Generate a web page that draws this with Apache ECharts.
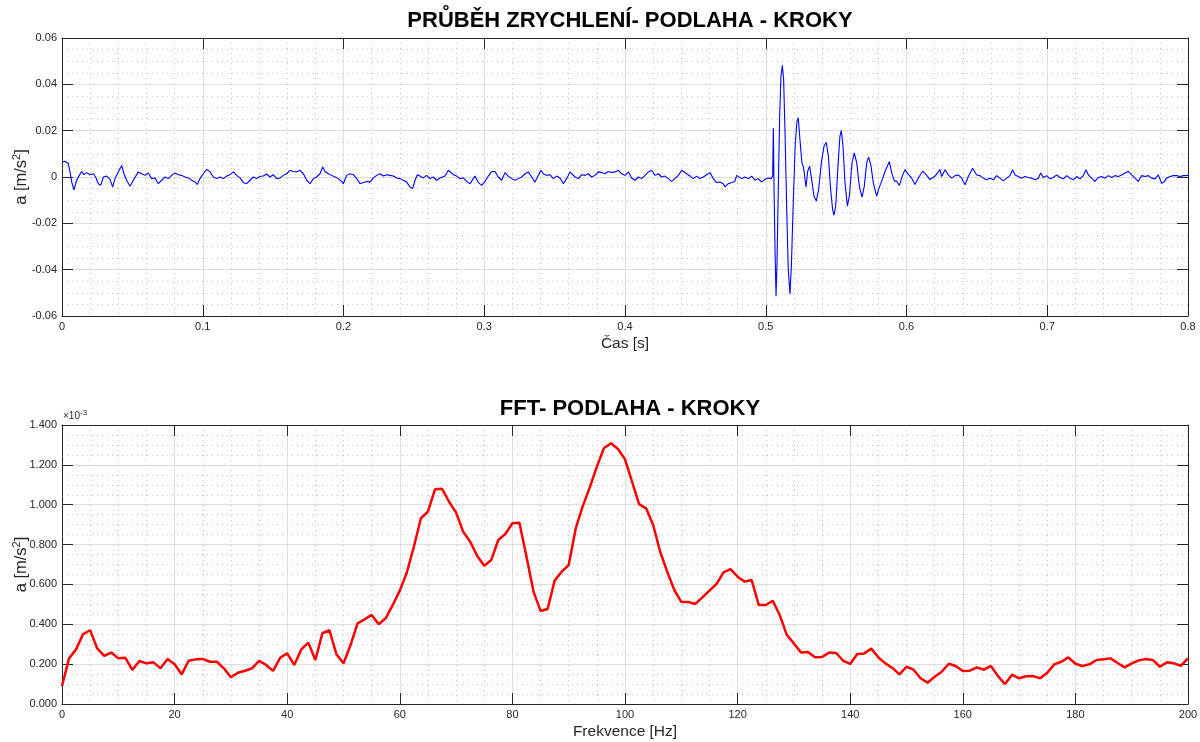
<!DOCTYPE html>
<html>
<head>
<meta charset="utf-8">
<title>Průběh zrychlení a FFT – podlaha, kroky</title>
<script src="https://cdn.jsdelivr.net/npm/echarts@6/dist/echarts.min.js"></script>
<style>
  html, body { margin: 0; padding: 0; background: #ffffff; }
  #chart { width: 1200px; height: 742px; }
</style>
</head>
<body>
<div id="chart"></div>
<script>
// Time record of floor acceleration (footsteps): time [s] and acceleration [m/s^2]
const timeS = [
  0.0000, 0.0021, 0.0045, 0.0057, 0.0069, 0.0085, 0.0104, 0.0123, 0.0140, 0.0156,
  0.0175, 0.0199, 0.0223, 0.0242, 0.0258, 0.0275, 0.0294, 0.0317, 0.0341, 0.0360,
  0.0377, 0.0400, 0.0424, 0.0440, 0.0459, 0.0483, 0.0507, 0.0542, 0.0566, 0.0590,
  0.0613, 0.0637, 0.0661, 0.0684, 0.0708, 0.0732, 0.0755, 0.0779, 0.0803, 0.0827,
  0.0850, 0.0874, 0.0898, 0.0921, 0.0945, 0.0962, 0.0980, 0.1004, 0.1028, 0.1052,
  0.1075, 0.1099, 0.1123, 0.1146, 0.1170, 0.1194, 0.1217, 0.1241, 0.1265, 0.1288,
  0.1312, 0.1336, 0.1359, 0.1383, 0.1407, 0.1430, 0.1454, 0.1478, 0.1501, 0.1525,
  0.1549, 0.1573, 0.1596, 0.1620, 0.1644, 0.1667, 0.1691, 0.1715, 0.1738, 0.1762,
  0.1786, 0.1809, 0.1833, 0.1852, 0.1869, 0.1892, 0.1916, 0.1940, 0.1963, 0.1987,
  0.1999, 0.2022, 0.2046, 0.2070, 0.2094, 0.2117, 0.2141, 0.2165, 0.2188, 0.2212,
  0.2236, 0.2259, 0.2283, 0.2307, 0.2330, 0.2354, 0.2378, 0.2401, 0.2425, 0.2449,
  0.2472, 0.2491, 0.2508, 0.2525, 0.2543, 0.2567, 0.2591, 0.2615, 0.2638, 0.2662,
  0.2686, 0.2697, 0.2721, 0.2745, 0.2757, 0.2780, 0.2804, 0.2828, 0.2851, 0.2875,
  0.2899, 0.2922, 0.2934, 0.2958, 0.2982, 0.3005, 0.3029, 0.3053, 0.3076, 0.3100,
  0.3124, 0.3147, 0.3171, 0.3195, 0.3218, 0.3242, 0.3266, 0.3290, 0.3313, 0.3337,
  0.3361, 0.3384, 0.3403, 0.3420, 0.3443, 0.3467, 0.3491, 0.3514, 0.3538, 0.3562,
  0.3586, 0.3609, 0.3621, 0.3645, 0.3668, 0.3692, 0.3716, 0.3739, 0.3763, 0.3787,
  0.3810, 0.3834, 0.3858, 0.3881, 0.3905, 0.3929, 0.3953, 0.3976, 0.4000, 0.4024,
  0.4047, 0.4071, 0.4095, 0.4118, 0.4142, 0.4166, 0.4189, 0.4213, 0.4237, 0.4260,
  0.4284, 0.4308, 0.4331, 0.4355, 0.4379, 0.4403, 0.4414, 0.4438, 0.4462, 0.4485,
  0.4509, 0.4533, 0.4556, 0.4580, 0.4604, 0.4627, 0.4651, 0.4675, 0.4698, 0.4710,
  0.4734, 0.4758, 0.4781, 0.4793, 0.4805, 0.4829, 0.4852, 0.4876, 0.4900, 0.4923,
  0.4947, 0.4971, 0.4994, 0.5018, 0.5037, 0.5049, 0.5054, 0.5059, 0.5066, 0.5073,
  0.5080, 0.5089, 0.5099, 0.5108, 0.5118, 0.5127, 0.5137, 0.5149, 0.5160, 0.5172,
  0.5182, 0.5196, 0.5210, 0.5222, 0.5231, 0.5243, 0.5257, 0.5269, 0.5286, 0.5298,
  0.5312, 0.5326, 0.5343, 0.5359, 0.5376, 0.5395, 0.5414, 0.5430, 0.5445, 0.5461,
  0.5475, 0.5485, 0.5497, 0.5513, 0.5527, 0.5537, 0.5549, 0.5563, 0.5580, 0.5594,
  0.5613, 0.5629, 0.5646, 0.5665, 0.5684, 0.5700, 0.5717, 0.5731, 0.5748, 0.5764,
  0.5788, 0.5805, 0.5824, 0.5848, 0.5878, 0.5895, 0.5914, 0.5930, 0.5949, 0.5970,
  0.5989, 0.6013, 0.6036, 0.6060, 0.6084, 0.6115, 0.6138, 0.6167, 0.6203, 0.6238,
  0.6250, 0.6274, 0.6297, 0.6321, 0.6345, 0.6368, 0.6392, 0.6416, 0.6439, 0.6470,
  0.6499, 0.6522, 0.6546, 0.6570, 0.6593, 0.6617, 0.6641, 0.6664, 0.6688, 0.6712,
  0.6735, 0.6754, 0.6771, 0.6795, 0.6818, 0.6842, 0.6866, 0.6889, 0.6913, 0.6937,
  0.6953, 0.6972, 0.6996, 0.7019, 0.7043, 0.7067, 0.7090, 0.7114, 0.7138, 0.7162,
  0.7185, 0.7209, 0.7233, 0.7256, 0.7275, 0.7292, 0.7316, 0.7339, 0.7363, 0.7387,
  0.7410, 0.7434, 0.7458, 0.7481, 0.7505, 0.7529, 0.7552, 0.7576, 0.7600, 0.7623,
  0.7647, 0.7671, 0.7694, 0.7718, 0.7742, 0.7765, 0.7789, 0.7813, 0.7829, 0.7848,
  0.7872, 0.7896, 0.7919, 0.7943, 0.7967, 0.7990, 0.8000
];
const accel = [
  0.0065, 0.0068, 0.0058, 0.0022, -0.0022, -0.0055, -0.0014, 0.0007, 0.0024, 0.0010,
  0.0019, 0.0010, 0.0014, -0.0004, -0.0029, -0.0036, 0.0000, 0.0004, -0.0010, -0.0043,
  -0.0007, 0.0022, 0.0050, 0.0014, -0.0014, -0.0040, -0.0014, 0.0022, 0.0014, 0.0007,
  0.0017, -0.0007, -0.0004, -0.0029, -0.0014, 0.0000, -0.0007, 0.0007, 0.0017, 0.0010,
  0.0007, 0.0000, -0.0004, -0.0014, -0.0022, -0.0032, -0.0007, 0.0014, 0.0033, 0.0022,
  0.0000, -0.0007, 0.0000, -0.0007, 0.0004, 0.0010, 0.0022, 0.0007, -0.0004, -0.0024,
  -0.0029, -0.0014, 0.0000, -0.0007, 0.0003, 0.0004, 0.0013, 0.0000, 0.0010, -0.0007,
  -0.0004, 0.0007, 0.0014, 0.0029, 0.0024, 0.0022, 0.0029, 0.0014, -0.0014, -0.0029,
  -0.0007, 0.0000, 0.0014, 0.0043, 0.0024, 0.0014, 0.0007, 0.0000, -0.0007, -0.0019,
  -0.0029, 0.0007, 0.0014, 0.0010, -0.0007, -0.0029, -0.0024, -0.0019, -0.0022, -0.0004,
  0.0007, 0.0014, 0.0004, 0.0010, 0.0007, 0.0004, -0.0004, -0.0007, -0.0014, -0.0022,
  -0.0043, -0.0050, -0.0014, 0.0010, 0.0004, -0.0004, 0.0007, -0.0007, 0.0000, -0.0014,
  -0.0004, 0.0000, 0.0004, 0.0029, 0.0036, 0.0010, 0.0004, -0.0007, -0.0004, -0.0019,
  -0.0029, -0.0007, 0.0004, -0.0024, -0.0036, -0.0019, 0.0004, 0.0024, 0.0024, 0.0000,
  -0.0014, 0.0019, 0.0004, -0.0007, -0.0014, -0.0007, 0.0000, 0.0014, 0.0022, 0.0000,
  -0.0022, 0.0007, 0.0029, 0.0014, 0.0007, 0.0010, -0.0007, 0.0004, -0.0004, -0.0029,
  -0.0007, 0.0022, 0.0029, 0.0000, -0.0007, 0.0010, 0.0007, 0.0014, 0.0000, 0.0007,
  0.0022, 0.0019, 0.0014, 0.0024, 0.0019, 0.0022, 0.0029, 0.0014, 0.0007, 0.0022,
  -0.0004, -0.0014, 0.0000, -0.0007, 0.0007, 0.0022, 0.0029, 0.0007, 0.0014, 0.0000,
  0.0004, -0.0007, -0.0019, -0.0007, 0.0007, 0.0029, 0.0036, 0.0014, 0.0004, -0.0007,
  0.0004, -0.0007, 0.0000, 0.0010, 0.0019, -0.0007, -0.0024, -0.0022, -0.0029, -0.0043,
  -0.0029, -0.0024, -0.0019, 0.0007, 0.0014, -0.0007, 0.0000, -0.0007, 0.0004, -0.0014,
  -0.0007, -0.0022, -0.0010, -0.0004, -0.0007, 0.0004, 0.0212, -0.0054, -0.0313, -0.0515,
  -0.0371, -0.0054, 0.0263, 0.0436, 0.0482, 0.0421, 0.0191, -0.0140, -0.0400, -0.0505,
  -0.0385, -0.0097, 0.0148, 0.0241, 0.0256, 0.0162, 0.0061, 0.0040, -0.0044, 0.0025,
  0.0047, -0.0011, -0.0083, -0.0104, -0.0054, 0.0061, 0.0133, 0.0150, 0.0090, -0.0054,
  -0.0140, -0.0165, -0.0126, 0.0047, 0.0176, 0.0201, 0.0133, -0.0025, -0.0126, -0.0083,
  0.0061, 0.0104, 0.0061, -0.0040, -0.0087, -0.0040, 0.0061, 0.0086, 0.0047, -0.0025,
  -0.0083, -0.0047, -0.0018, 0.0025, 0.0066, 0.0018, -0.0018, -0.0018, -0.0037, 0.0004,
  0.0032, 0.0011, -0.0004, -0.0032, -0.0004, 0.0025, 0.0011, -0.0011, 0.0004, 0.0032,
  0.0002, 0.0031, 0.0009, -0.0005, 0.0006, 0.0009, -0.0005, -0.0034, 0.0002, 0.0038,
  0.0009, 0.0006, -0.0005, -0.0012, -0.0005, -0.0012, 0.0006, -0.0005, -0.0017, -0.0005,
  0.0006, 0.0031, 0.0009, 0.0002, -0.0005, 0.0002, -0.0002, -0.0005, -0.0012, -0.0005,
  0.0017, -0.0002, 0.0006, -0.0008, -0.0002, 0.0009, -0.0002, -0.0008, 0.0006, -0.0005,
  -0.0012, 0.0002, -0.0008, 0.0006, 0.0031, 0.0009, -0.0005, -0.0019, -0.0002, 0.0002,
  -0.0005, 0.0006, -0.0002, 0.0006, 0.0002, 0.0009, 0.0017, 0.0024, 0.0009, -0.0005,
  -0.0019, 0.0006, 0.0002, 0.0006, -0.0005, -0.0008, 0.0009, -0.0027, -0.0022, -0.0005,
  0.0002, 0.0006, 0.0006, 0.0002, 0.0006, 0.0006, 0.0008
];

// Single-sided FFT amplitude, bin spacing 1/0.8 s = 1.25 Hz, values in 10^-3 m/s^2
const FREQ_STEP_HZ = 1.25;
const fftAmp = [
  0.090, 0.229, 0.274, 0.351, 0.370, 0.279, 0.241, 0.258, 0.229, 0.232,
  0.171, 0.216, 0.204, 0.209, 0.179, 0.226, 0.199, 0.149, 0.217, 0.224,
  0.226, 0.212, 0.212, 0.179, 0.134, 0.157, 0.167, 0.179, 0.216, 0.196,
  0.166, 0.232, 0.254, 0.196, 0.274, 0.308, 0.221, 0.355, 0.370, 0.249,
  0.204, 0.296, 0.405, 0.425, 0.447, 0.400, 0.430, 0.497, 0.569, 0.660,
  0.789, 0.932, 0.965, 1.077, 1.080, 1.015, 0.960, 0.865, 0.814, 0.743,
  0.694, 0.723, 0.823, 0.853, 0.907, 0.910, 0.739, 0.564, 0.467, 0.477,
  0.619, 0.664, 0.697, 0.881, 0.993, 1.087, 1.191, 1.283, 1.308, 1.280,
  1.228, 1.116, 1.003, 0.982, 0.898, 0.764, 0.664, 0.572, 0.512, 0.512,
  0.502, 0.535, 0.569, 0.602, 0.661, 0.677, 0.639, 0.614, 0.622, 0.497,
  0.497, 0.518, 0.445, 0.346, 0.304, 0.259, 0.261, 0.234, 0.236, 0.258,
  0.256, 0.217, 0.201, 0.251, 0.254, 0.278, 0.233, 0.204, 0.181, 0.149,
  0.187, 0.172, 0.129, 0.107, 0.137, 0.162, 0.202, 0.191, 0.166, 0.167,
  0.184, 0.172, 0.191, 0.140, 0.100, 0.147, 0.129, 0.139, 0.140, 0.129,
  0.157, 0.199, 0.212, 0.234, 0.202, 0.191, 0.199, 0.221, 0.224, 0.229,
  0.206, 0.184, 0.204, 0.219, 0.226, 0.221, 0.187, 0.209, 0.204, 0.192,
  0.229
];

const TITLE_TIME = 'PRŮBĚH ZRYCHLENÍ- PODLAHA - KROKY';
const TITLE_FFT = 'FFT- PODLAHA - KROKY';

const timeData = timeS.map((t, i) => [t, accel[i]]);
const fftData = fftAmp.map((a, i) => [i * FREQ_STEP_HZ, a]);

const FONT = '"Liberation Sans", Arial, Helvetica, sans-serif';
const AX = '#262626';
const MAJOR_GRID = '#dedede';
const MINOR_GRID = '#c4c4c4';

function boxAxis(extra) {
  return Object.assign({
    type: 'value',
    axisLine: { show: true, onZero: false, lineStyle: { color: AX, width: 1 } },
    axisTick: { show: true, inside: true, length: 11, lineStyle: { color: AX, width: 1 } },
    axisLabel: { show: false },
    splitLine: { show: false },
    minorSplitLine: { show: false }
  }, extra);
}

function mainAxis(extra, minorSplit, labelFmt) {
  return boxAxis(Object.assign({
    axisLabel: {
      show: true, color: AX, fontSize: 11, fontFamily: FONT, margin: 5,
      formatter: labelFmt
    },
    nameMoveOverlap: false,
    splitLine: { show: true, lineStyle: { color: MAJOR_GRID, width: 1 } },
    minorTick: { show: false, splitNumber: minorSplit },
    minorSplitLine: { show: true, lineStyle: { color: MINOR_GRID, width: 1, type: [1, 4] } }
  }, extra));
}

const fmtTimeY = v => (Math.abs(v) < 1e-9 ? '0' : v.toFixed(2));
const fmtTimeX = v => (Math.abs(v) < 1e-9 ? '0' : String(+v.toFixed(1)));
const fmtFftY = v => v.toFixed(3);
const fmtFftX = v => String(Math.round(v));

const yName = {
  name: 'a [m/s{sup|2}]',
  nameLocation: 'middle',
  nameGap: 31,
  nameTextStyle: {
    color: AX, fontSize: 16.5, fontFamily: FONT,
    rich: { sup: { fontSize: 11, verticalAlign: 'top', padding: [0, 0, 9, 0], color: AX, fontFamily: FONT } }
  }
};

const xNameStyle = { color: AX, fontSize: 15.5, fontFamily: FONT };

const chart = echarts.init(document.getElementById('chart'), null, { renderer: 'canvas' });

chart.setOption({
  animation: false,
  backgroundColor: '#ffffff',
  title: [
    { text: TITLE_TIME, left: 625, top: 5, textAlign: 'center',
      textStyle: { fontFamily: FONT, fontSize: 22, fontWeight: 'bold', color: '#000' } },
    { text: TITLE_FFT, left: 625, top: 393, textAlign: 'center',
      textStyle: { fontFamily: FONT, fontSize: 22, fontWeight: 'bold', color: '#000' } }
  ],
  grid: [
    { left: 62, right: 12, top: 38, height: 278, outerBoundsMode: 'none', containLabel: false },
    { left: 62, right: 12, top: 425, height: 279, outerBoundsMode: 'none', containLabel: false }
  ],
  xAxis: [
    mainAxis({ gridIndex: 0, position: 'bottom', min: 0, max: 0.8, interval: 0.1,
      name: 'Čas [s]', nameLocation: 'middle', nameGap: 20, nameTextStyle: xNameStyle }, 5, fmtTimeX),
    boxAxis({ gridIndex: 0, position: 'top', min: 0, max: 0.8, interval: 0.1 }),
    mainAxis({ gridIndex: 1, position: 'bottom', min: 0, max: 200, interval: 20,
      name: 'Frekvence [Hz]', nameLocation: 'middle', nameGap: 20, nameTextStyle: xNameStyle }, 4, fmtFftX),
    boxAxis({ gridIndex: 1, position: 'top', min: 0, max: 200, interval: 20 })
  ],
  yAxis: [
    mainAxis(Object.assign({ gridIndex: 0, position: 'left', min: -0.06, max: 0.06, interval: 0.02 }, yName), 4, fmtTimeY),
    boxAxis({ gridIndex: 0, position: 'right', min: -0.06, max: 0.06, interval: 0.02 }),
    mainAxis(Object.assign({ gridIndex: 1, position: 'left', min: 0, max: 1.4, interval: 0.2 }, yName), 4, fmtFftY),
    boxAxis({ gridIndex: 1, position: 'right', min: 0, max: 1.4, interval: 0.2 }),
    {
      // exponent note for the FFT amplitude axis
      type: 'value', gridIndex: 1, position: 'left', min: 0, max: 1.4,
      axisLine: { show: false }, axisTick: { show: false }, axisLabel: { show: false },
      splitLine: { show: false },
      name: '×10{e|-3}', nameLocation: 'end', nameGap: 2, nameMoveOverlap: false,
      nameTextStyle: {
        align: 'left', verticalAlign: 'bottom', color: AX, fontSize: 10, fontFamily: FONT,
        padding: [0, 0, 0, 1],
        rich: { e: { fontSize: 8, verticalAlign: 'top', padding: [0, 0, 6, 0], color: AX, fontFamily: FONT } }
      }
    }
  ],
  series: [
    {
      type: 'line', xAxisIndex: 0, yAxisIndex: 0, data: timeData,
      showSymbol: false, symbol: 'none', clip: true,
      lineStyle: { color: '#0000ff', width: 1.1 }
    },
    {
      type: 'line', xAxisIndex: 2, yAxisIndex: 2, data: fftData,
      showSymbol: false, symbol: 'none', clip: true,
      lineStyle: { color: '#ff0000', width: 2.5 }
    }
  ]
});
</script>
</body>
</html>
